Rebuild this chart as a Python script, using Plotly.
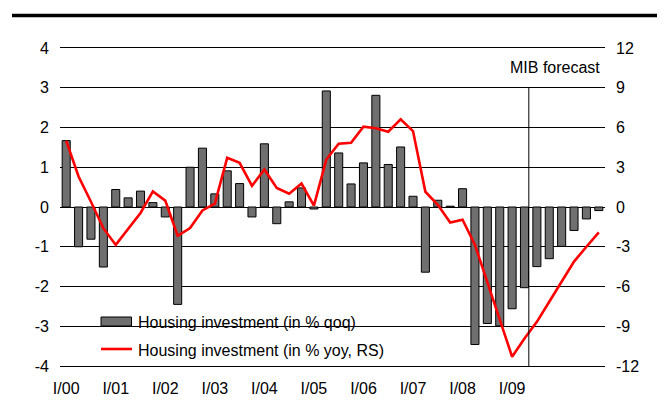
import plotly.graph_objects as go

# ---- data ----
years = list(range(2000, 2011))
quarters = [f"{y}Q{q}" for y in years for q in range(1, 5)]

qoq = [1.67, -1.00, -0.81, -1.51, 0.44, 0.23, 0.40, 0.11, -0.25, -2.45,
       1.00, 1.48, 0.33, 0.91, 0.59, -0.25, 1.59, -0.42, 0.13, 0.48,
       -0.05, 2.92, 1.36, 0.58, 1.11, 2.81, 1.07, 1.51, 0.27, -1.64,
       0.17, 0.02, 0.46, -3.46, -2.93, -2.99, -2.56, -2.03, -1.50, -1.30,
       -0.99, -0.59, -0.30, -0.09]

yoy = [5.0, 2.3, 0.4, -1.6, -2.86, -1.67, -0.45, 1.18, 0.48, -2.17,
       -1.59, -0.26, 0.25, 3.71, 3.33, 1.6, 2.83, 1.44, 1.0, 1.77,
       0.1, 3.58, 4.77, 4.85, 6.06, 5.95, 5.68, 6.61, 5.73, 1.15,
       0.17, -1.17, -0.96, -2.86, -5.68, -8.5, -11.3, -9.92, -8.67, -7.15,
       -5.6, -4.12, -3.0, -1.92]

tick_quarters = [f"{y}Q1" for y in range(2000, 2010)]
tick_labels = ["I/00", "I/01", "I/02", "I/03", "I/04", "I/05", "I/06", "I/07", "I/08", "I/09"]

left_ticks = [-4, -3, -2, -1, 0, 1, 2, 3, 4]
right_ticks = [-12, -9, -6, -3, 0, 3, 6, 9, 12]

name_bar = "Housing investment (in % qoq)"
name_line = "Housing investment (in % yoy, RS)"
forecast_label = "MIB forecast"
forecast_pos = 37.35

FONT = "Arial, Liberation Sans, sans-serif"
OFF = 8  # default page body margin
W, H = 665 - OFF, 419 - OFF
ML, MR, MT, MB = 60 - OFF, 60, 48 - OFF, 53
PW = W - ML - MR
PH = H - MT - MB


def px(xp):
    # xp: pixel in the window
    return (xp - OFF - ML) / PW


def py(yp):
    return (H - MB - (yp - OFF)) / PH


fig = go.Figure()
fig.add_trace(go.Bar(
    x=quarters, y=qoq, name=name_bar,
    marker=dict(color="#6f6f6f", line=dict(color="#000000", width=1)),
    yaxis="y", showlegend=False,
))
fig.add_trace(go.Scatter(
    x=quarters, y=yoy, name=name_line, mode="lines",
    line=dict(color="#ff0000", width=2.6),
    yaxis="y2", showlegend=False,
))

shapes = [
    # white mask behind legend hiding gridline
    dict(type="rect", xref="paper", yref="paper", x0=-0.005, x1=px(427), y0=py(345), y1=py(306),
         fillcolor="white", line=dict(width=0), layer="between"),
    # forecast separator
    dict(type="line", xref="x", yref="y", x0=forecast_pos, x1=forecast_pos, y0=-4, y1=3,
         line=dict(color="black", width=1), layer="above"),
    # top heavy rule
    dict(type="line", xref="paper", yref="paper", x0=px(12), x1=px(665), y0=py(15.5), y1=py(15.5),
         line=dict(color="black", width=3.5)),
    # legend symbols
    dict(type="rect", xref="paper", yref="paper", x0=px(101), x1=px(131.5), y0=py(326), y1=py(317),
         fillcolor="#6f6f6f", line=dict(color="black", width=1)),
    dict(type="line", xref="paper", yref="paper", x0=px(101), x1=px(132), y0=py(349), y1=py(349),
         line=dict(color="#ff0000", width=2.6)),
]

annotations = [
    dict(text=forecast_label, xref="paper", yref="paper", x=px(602), y=py(67),
         xanchor="right", yanchor="middle", showarrow=False,
         font=dict(family=FONT, size=16, color="black")),
    dict(text=name_bar, xref="paper", yref="paper", x=px(136), y=py(322),
         xanchor="left", yanchor="middle", showarrow=False,
         font=dict(family=FONT, size=16, color="black")),
    dict(text=name_line, xref="paper", yref="paper", x=px(136), y=py(350),
         xanchor="left", yanchor="middle", showarrow=False,
         font=dict(family=FONT, size=16, color="black")),
]

fig.update_layout(
    width=W, height=H,
    margin=dict(l=ML, r=MR, t=MT, b=MB, pad=0),
    paper_bgcolor="white", plot_bgcolor="white",
    font=dict(family=FONT, size=16, color="black"),
    bargap=0.35,
    shapes=shapes, annotations=annotations,
    xaxis=dict(type="category", categoryorder="array", categoryarray=quarters,
               tickmode="array", tickvals=tick_quarters, ticktext=tick_labels,
               showgrid=False, zeroline=False, showline=True, mirror=True,
               linecolor="black", linewidth=1, ticks="",
               ticklabelstandoff=8, range=[-0.5, len(quarters) - 0.5]),
    yaxis=dict(range=[-4, 4], tickmode="array", tickvals=left_ticks,
               ticktext=[str(v) for v in left_ticks],
               showgrid=True, gridcolor="#000000", gridwidth=1,
               zeroline=False, showline=False, ticks="", ticklabelstandoff=10),
    yaxis2=dict(range=[-12, 12], tickmode="array", tickvals=right_ticks,
                ticktext=[str(v) for v in right_ticks],
                overlaying="y", side="right", showgrid=False, zeroline=False,
                showline=False, ticks="", ticklabelstandoff=10),
)

fig.write_html("out.html")
